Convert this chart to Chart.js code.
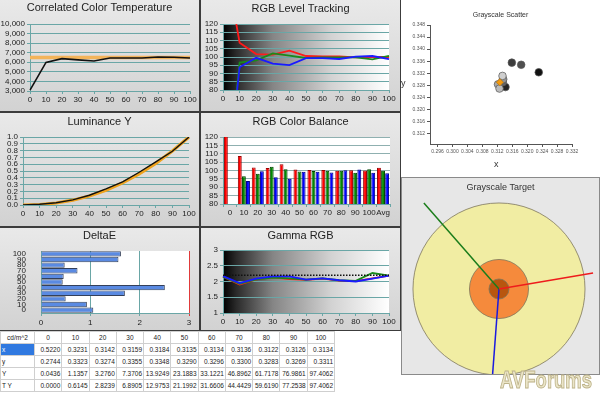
<!DOCTYPE html>
<html>
<head>
<meta charset="utf-8">
<script src="https://cdn.jsdelivr.net/npm/chart.js@4.4.1/dist/chart.umd.min.js"></script>
<style>
  body { margin: 0; width: 600px; height: 394px; background: #fff; position: relative; overflow: hidden; font-family: "Liberation Sans", Arial, sans-serif; }
  #frame { position: absolute; left: 0; top: 0; width: 401px; height: 331px; background: #3c3c3c; }
  .panel { position: absolute; background: linear-gradient(#e9e9e9, #d2d2d2); }
  .panel canvas, #scatterBox canvas, #targetBox canvas { display: block; }
  #scatterBox { position: absolute; left: 401px; top: 0; width: 199px; height: 177px; background: #fff; }
  #targetBox { position: absolute; left: 401px; top: 177px; width: 197px; height: 196px; background: #e7e7e7; border: 1px solid #8a8a8a; }
  .axisName { position: absolute; font-size: 9px; color: #333; }
  #readings { position: absolute; left: 0; top: 331px; width: 335px; border-collapse: collapse; table-layout: fixed; background: #fff;
    font: 6.5px "Liberation Sans Narrow", "Liberation Sans", Arial, sans-serif; color: #222; }
  #readings td { border: 1px solid #cfcfcf; height: 11px; padding: 0 1px; text-align: right; white-space: nowrap; overflow: hidden; }
  #readings tr:first-child td { text-align: center; }
  #readings td:first-child { text-align: left; }
  #readings td.sel { background: #3079e0; color: #fff; }
  #brand { position: absolute; left: 500px; top: 366px; font: bold 24px "Liberation Sans Narrow", "Liberation Sans", Arial, sans-serif;
    color: #ebe5c8; -webkit-text-stroke: 1px #bdb38a; transform: scaleX(0.77); transform-origin: 0 0; }
</style>
</head>
<body>
<div id="frame"></div>
<div class="panel" style="left:0;top:0;width:199px;height:111px"><canvas id="cctChart" width="199" height="111"></canvas></div>
<div class="panel" style="left:201px;top:0;width:199px;height:111px"><canvas id="levelChart" width="199" height="111"></canvas></div>
<div class="panel" style="left:0;top:113px;width:199px;height:113px"><canvas id="lumChart" width="199" height="113"></canvas></div>
<div class="panel" style="left:201px;top:113px;width:199px;height:113px"><canvas id="balanceChart" width="199" height="113"></canvas></div>
<div class="panel" style="left:0;top:228px;width:199px;height:102px"><canvas id="deltaChart" width="199" height="102"></canvas></div>
<div class="panel" style="left:201px;top:228px;width:199px;height:102px"><canvas id="gammaChart" width="199" height="102"></canvas></div>
<div id="scatterBox"><canvas id="scatterChart" width="199" height="177"></canvas></div>
<span class="axisName" style="left:401px;top:78px">y</span>
<span class="axisName" style="left:494px;top:159px">x</span>
<div id="targetBox"><canvas id="targetChart" width="197" height="196"></canvas></div>
<table id="readings"><colgroup><col style="width:34px"></colgroup></table>
<div id="brand">AVForums</div>

<script>
// ## DATA ##
const levels = ["0", "10", "20", "30", "40", "50", "60", "70", "80", "90", "100"];
const balanceLabels = ["0", "10", "20", "30", "40", "50", "60", "70", "80", "90", "100", "Avg"];

const cctMeasured = [3100, 5990, 6380, 6250, 6130, 6450, 6450, 6450, 6550, 6520, 6450];
const cctTarget = [6500, 6500, 6500, 6500, 6500, 6500, 6500, 6500, 6500, 6500, 6500];

const redLevel = [166, 108.7, 101.8, 101.5, 103.8, 100.6, 100.3, 100.3, 99.8, 100.1, 100.0];
const greenLevel = [0, 96.6, 98.0, 102.2, 100.8, 99.4, 99.7, 99.8, 99.8, 98.6, 100.7];
const blueLevel = [0, 93.8, 99.5, 96.0, 95.1, 99.3, 99.3, 98.8, 100.2, 100.6, 98.7];
const rgbAvg = [101.7, 99.9, 98.3];

const lumMeasured = [0.0004, 0.0117, 0.0336, 0.0757, 0.143, 0.2381, 0.34, 0.4815, 0.6336, 0.7904, 1.0];
const lumTarget = [0, 0.0063, 0.029, 0.0707, 0.1332, 0.2176, 0.325, 0.4563, 0.6121, 0.7931, 1.0];

const deltaE = [1.06, 0.93, 0.5, 1.7, 2.51, 0.44, 0.46, 0.74, 0.48, 1.57, 1.62];

const gammaRed = [2.15, 1.9, 2.07, 2.13, 2.08, 2.05, 2.09, 2.03, 2.01, 2.1, 2.19];
const gammaGreen = [2.15, 1.93, 2.07, 2.12, 2.1, 2.06, 2.1, 2.04, 2.02, 2.27, 2.19];
const gammaBlue = [2.17, 1.95, 2.09, 2.16, 2.16, 2.06, 2.1, 2.04, 2.0, 2.09, 2.19];
const gammaTarget = [2.2, 2.2, 2.2, 2.2, 2.2, 2.2, 2.2, 2.2, 2.2, 2.2, 2.2];

// table readings
const chromaX = [0.522, 0.3231, 0.3142, 0.3159, 0.3184, 0.3135, 0.3134, 0.3136, 0.3122, 0.3126, 0.3134];
const chromaY = [0.2744, 0.3323, 0.3274, 0.3355, 0.3348, 0.329, 0.3296, 0.33, 0.3283, 0.3269, 0.3311];
const lumY = [0.0436, 1.1357, 3.276, 7.3706, 13.9249, 23.1883, 33.1221, 46.8962, 61.7178, 76.9861, 97.4062];
const targetLumY = [0, 0.6145, 2.8239, 6.8905, 12.9753, 21.1992, 31.6606, 44.4429, 59.619, 77.2538, 97.4062];

const whitePoint = [0.3127, 0.329];
const pointShades = ["#000", "#111", "#252525", "#3c3c3c", "#505050", "#686868", "#7e7e7e", "#939393", "#a8a8a8", "#bbbbbb", "#cfcfcf"];

// grayscale target: ring radii and rgb error vectors
const ringRadius = [3, 1.03, 0.35];
const ringFill = ["#f1eda3", "#f58a3c", "#b8560f"];
const redVec = [3.28, 0.56];
const greenVec = [-2.62, 3.0];
const blueVec = [-0.3, -4.0];

// ## COMMON ##
Chart.defaults.font.family = '"Liberation Sans", Arial, sans-serif';
Chart.defaults.color = "#222";
const teal = "#6aa6a6";

const plotBg = {
  id: "plotBg",
  beforeDraw(chart, args, opts) {
    if (!opts.fill) return;
    const { ctx, chartArea: a } = chart;
    ctx.save();
    if (opts.fill === "ramp") {
      const g = ctx.createLinearGradient(a.left, 0, a.right, 0);
      g.addColorStop(0, "#000");
      g.addColorStop(0.08, "#2a2a2a");
      g.addColorStop(0.3, "#858585");
      g.addColorStop(0.65, "#d2d2d2");
      g.addColorStop(1, "#fff");
      ctx.fillStyle = g;
    } else {
      ctx.fillStyle = opts.fill;
    }
    ctx.fillRect(a.left, a.top, a.width, a.height);
    ctx.restore();
  },
};
Chart.register(plotBg);

// keep the title centred on the whole panel: the right gap comes from the x scale
function fitX(height, gapRight) {
  return (s) => {
    s.height = height;
    s.paddingRight = gapRight;
  };
}

function panelOptions(p) {
  return {
    responsive: false,
    animation: false,
    devicePixelRatio: 1,
    layout: { padding: 0 },
    plugins: {
      legend: { display: false },
      tooltip: { enabled: false },
      title: {
        display: true,
        text: p.title,
        color: "#222",
        font: { size: 11, weight: "normal" },
        padding: { top: p.titleY - 6.6, bottom: p.top - p.titleY - 6.6 },
      },
      plotBg: { fill: p.fill },
    },
    scales: {
      x: {
        afterFit: fitX(p.h - p.bottom, p.w - p.right),
        grid: { drawOnChartArea: false, color: teal, tickLength: 3 },
        border: { color: teal },
        ticks: { font: { size: 8 }, padding: 1, maxRotation: 0, autoSkip: false },
      },
      y: {
        min: p.min,
        max: p.max,
        afterFit: (s) => { s.width = p.left; },
        grid: { color: teal, tickLength: 3 },
        border: { color: teal },
        ticks: { font: { size: 8 }, padding: 2, stepSize: p.step, autoSkip: false, callback: p.fmt },
      },
    },
  };
}

// ## CCT ##
new Chart(document.getElementById("cctChart"), {
  type: "line",
  data: {
    labels: levels,
    datasets: [
      { data: cctMeasured, borderColor: "#111", borderWidth: 1.6, pointRadius: 0 },
      { data: cctTarget, borderColor: "#f3b45a", borderWidth: 3.5, pointRadius: 0 },
    ],
  },
  options: panelOptions({ title: "Correlated Color Temperature", w: 199, h: 111, left: 30, right: 190, top: 24, bottom: 91, titleY: 8,
    min: 3000, max: 10000, step: 1000, fmt: (v) => v.toLocaleString("en-US") }),
});

// ## RGB LEVEL TRACKING ##
new Chart(document.getElementById("levelChart"), {
  type: "line",
  data: {
    labels: levels,
    datasets: [
      { data: redLevel, borderColor: "#ff1a1a", borderWidth: 1.8, pointRadius: 0, order: 3 },
      { data: greenLevel, borderColor: "#1a8a1a", borderWidth: 1.8, pointRadius: 0, order: 2 },
      { data: blueLevel, borderColor: "#1a1aff", borderWidth: 1.8, pointRadius: 0, order: 1 },
    ],
  },
  options: panelOptions({ title: "RGB Level Tracking", w: 199, h: 111, left: 22, right: 188, top: 24, bottom: 90, titleY: 9,
    min: 80, max: 120, step: 5, fill: "ramp" }),
});

// ## LUMINANCE ##
new Chart(document.getElementById("lumChart"), {
  type: "line",
  data: {
    labels: levels,
    datasets: [
      { data: lumMeasured, borderColor: "#111", borderWidth: 1.4, pointRadius: 0 },
      { data: lumTarget, borderColor: "#f0a31e", borderWidth: 3.2, pointRadius: 0 },
    ],
  },
  options: panelOptions({ title: "Luminance Y", w: 199, h: 113, left: 23, right: 189, top: 24, bottom: 92, titleY: 9,
    min: 0, max: 1, step: 0.1, fmt: (v) => v.toFixed(1) }),
});

// ## RGB COLOR BALANCE ##
const balanceOptions = panelOptions({ title: "RGB Color Balance", w: 199, h: 113, left: 22, right: 189, top: 24, bottom: 91, titleY: 9,
  min: 80, max: 120, step: 5, fill: "#fff" });
balanceOptions.datasets = { bar: { categoryPercentage: 0.88, barPercentage: 0.95 } };
balanceOptions.scales.y.grid.color = "#8fb0b0";

new Chart(document.getElementById("balanceChart"), {
  type: "bar",
  data: {
    labels: balanceLabels,
    datasets: [
      { data: redLevel.concat(rgbAvg[0]), backgroundColor: "#ff0000", borderColor: "#9a0000", borderWidth: 1 },
      { data: greenLevel.concat(rgbAvg[1]), backgroundColor: "#008a00", borderColor: "#004400", borderWidth: 1 },
      { data: blueLevel.concat(rgbAvg[2]), backgroundColor: "#0000ff", borderColor: "#00008a", borderWidth: 1 },
    ],
  },
  options: balanceOptions,
});

// ## DELTA E ##
new Chart(document.getElementById("deltaChart"), {
  type: "bar",
  data: {
    labels: levels,
    datasets: [
      { data: deltaE, backgroundColor: "#5a8ae2", borderColor: "#34405a", borderWidth: 1,
        categoryPercentage: 1, barPercentage: 0.95 },
    ],
  },
  options: {
    indexAxis: "y",
    responsive: false,
    animation: false,
    devicePixelRatio: 1,
    layout: { padding: 0 },
    plugins: {
      legend: { display: false },
      tooltip: { enabled: false },
      title: { display: true, text: "DeltaE", color: "#222", font: { size: 11, weight: "normal" }, padding: { top: 1.4, bottom: 8.4 } },
      plotBg: { fill: "#fff" },
    },
    scales: {
      x: {
        min: 0,
        max: 3,
        afterFit: fitX(102 - 85, 10),
        grid: { color: (c) => (c.tick && c.tick.value === 3 ? "#e03a3a" : teal), tickLength: 3 },
        border: { color: teal },
        ticks: { stepSize: 1, font: { size: 8 }, padding: 2 },
      },
      y: {
        reverse: true,
        afterFit: (s) => { s.width = 41; },
        grid: { display: false },
        border: { color: teal },
        ticks: { font: { size: 8 }, padding: 7, autoSkip: false },
      },
    },
  },
});

// ## GAMMA ##
new Chart(document.getElementById("gammaChart"), {
  type: "line",
  data: {
    labels: levels,
    datasets: [
      { data: gammaTarget, borderColor: "#111", borderWidth: 1.4, borderDash: [1.5, 1.5], pointRadius: 0, order: 0 },
      { data: gammaRed, borderColor: "#ff1a1a", borderWidth: 1.8, pointRadius: 0, order: 3 },
      { data: gammaGreen, borderColor: "#1a8a1a", borderWidth: 1.8, pointRadius: 0, order: 2 },
      { data: gammaBlue, borderColor: "#1a1aff", borderWidth: 1.8, pointRadius: 0, order: 1 },
    ],
  },
  options: panelOptions({ title: "Gamma RGB", w: 199, h: 102, left: 22, right: 188, top: 22, bottom: 85, titleY: 8,
    min: 1, max: 3, step: 0.5, fill: "ramp" }),
});

// ## GRAYSCALE SCATTER ##
new Chart(document.getElementById("scatterChart"), {
  type: "scatter",
  data: {
    datasets: [
      { data: [{ x: whitePoint[0], y: whitePoint[1] }], pointStyle: "rectRot", pointRadius: 3.6,
        backgroundColor: "#f39a10", borderColor: "#b87000", borderWidth: 0.6 },
      { data: chromaX.map((x, i) => ({ x: x, y: chromaY[i] })), pointRadius: 3.8,
        backgroundColor: pointShades, borderColor: "#555", borderWidth: 0.7 },
    ],
  },
  options: {
    responsive: false,
    animation: false,
    devicePixelRatio: 1,
    layout: { padding: 0 },
    plugins: {
      legend: { display: false },
      tooltip: { enabled: false },
      title: { display: true, text: "Grayscale Scatter", color: "#333", font: { size: 7, weight: "normal" }, padding: { top: 10.8, bottom: 5.8 } },
    },
    scales: {
      x: {
        min: 0.294,
        max: 0.332,
        afterFit: fitX(177 - 144, 28),
        grid: { drawOnChartArea: false, color: "#555", tickLength: 3 },
        border: { color: "#555" },
        ticks: { stepSize: 0.004, includeBounds: false, autoSkip: false, maxRotation: 0, font: { size: 5 }, color: "#555", padding: 2,
          callback: (v) => v.toFixed(3) },
      },
      y: {
        min: 0.3085,
        max: 0.348,
        afterFit: (s) => { s.width = 29; },
        grid: { drawOnChartArea: false, color: "#555", tickLength: 3 },
        border: { color: "#555" },
        ticks: { stepSize: 0.004, includeBounds: false, autoSkip: false, font: { size: 5 }, color: "#555", padding: 2,
          callback: (v) => v.toFixed(3) },
      },
    },
  },
});

// ## GRAYSCALE TARGET ##
function ringPx(chart, r) {
  const s = chart.scales.x;
  return Math.abs(s.getPixelForValue(r) - s.getPixelForValue(0));
}

new Chart(document.getElementById("targetChart"), {
  type: "scatter",
  data: {
    datasets: [
      { data: [{ x: 0, y: 0 }, { x: redVec[0], y: redVec[1] }], showLine: true, borderColor: "#ee1c1c", borderWidth: 1.5, pointRadius: 0 },
      { data: [{ x: 0, y: 0 }, { x: greenVec[0], y: greenVec[1] }], showLine: true, borderColor: "#1b7d1b", borderWidth: 1.5, pointRadius: 0 },
      { data: [{ x: 0, y: 0 }, { x: blueVec[0], y: blueVec[1] }], showLine: true, borderColor: "#1a1ae0", borderWidth: 1.5, pointRadius: 0 },
      { data: ringRadius.map((r) => ({ x: 0, y: 0, r: r })), backgroundColor: ringFill, borderColor: "#7d765a", borderWidth: 0.8,
        pointRadius: (c) => ringPx(c.chart, c.raw.r) },
    ],
  },
  options: {
    responsive: false,
    animation: false,
    devicePixelRatio: 1,
    layout: { padding: 0 },
    plugins: {
      legend: { display: false },
      tooltip: { enabled: false },
      title: { display: true, text: "Grayscale Target", color: "#333", font: { size: 9, weight: "normal" }, padding: { top: 4.6, bottom: 1.6 } },
    },
    scales: {
      x: { display: false, min: -3.383, max: 3.488 },
      y: { display: false, min: -2.965, max: 3.279 },
    },
  },
});

// ## TABLE ##
const tableRows = [["x", chromaX], ["y", chromaY], ["Y", lumY], ["T Y", targetLumY]];
let html = "<tr><td>cd/m^2</td>" + levels.map((l) => "<td>" + l + "</td>").join("") + "</tr>";
tableRows.forEach(([name, vals]) => {
  html += "<tr><td" + (name === "x" ? ' class="sel"' : "") + ">" + name + "</td>" +
    vals.map((v) => "<td>" + v.toFixed(4) + "</td>").join("") + "</tr>";
});
document.getElementById("readings").insertAdjacentHTML("beforeend", html);
</script>
</body>
</html>
